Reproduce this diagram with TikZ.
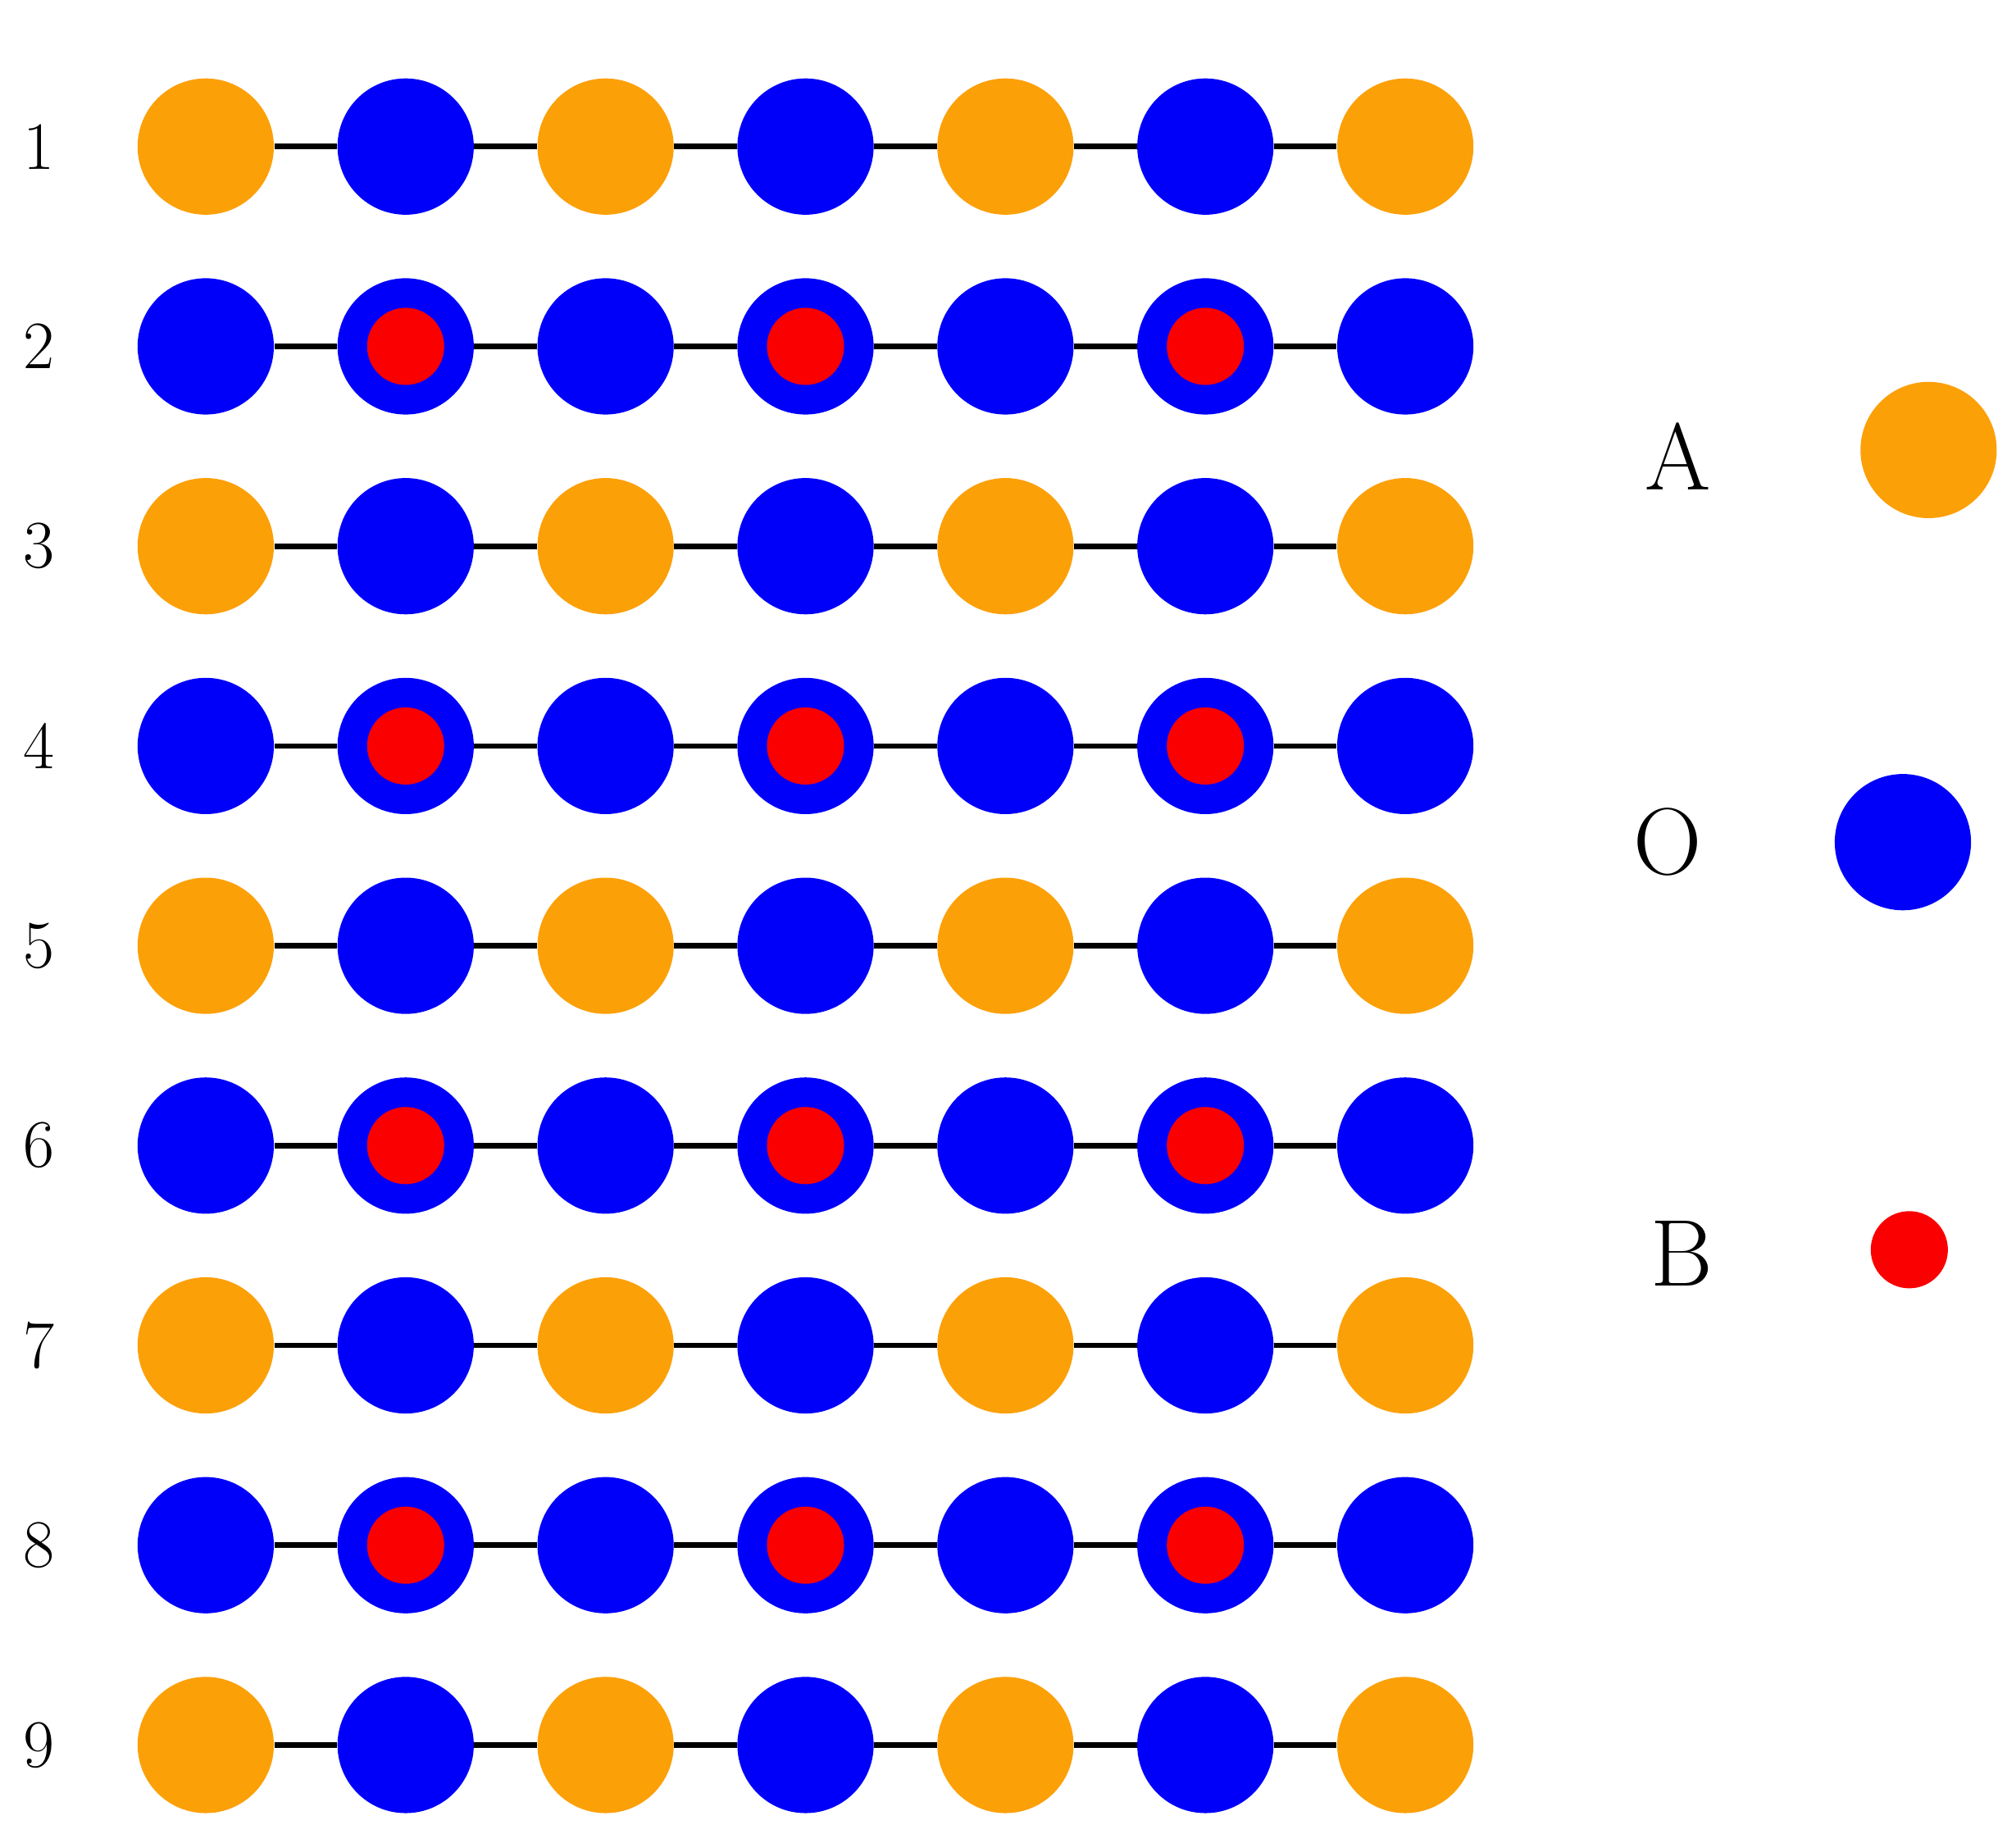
\documentclass[tikz,border=0pt]{standalone}
\usepackage{tikz}
\usetikzlibrary{positioning}
\definecolor{atomorange}{RGB}{252,160,8}
\definecolor{atomblue}{RGB}{0,0,250}
\definecolor{atomred}{RGB}{250,0,0}
\begin{document}
\begin{tikzpicture}[
    x=0.02cm, y=-0.02cm,
    siteA/.style={circle, fill=atomorange, minimum size=2.12cm, inner sep=0pt},
    siteO/.style={circle, fill=atomblue, minimum size=2.12cm, inner sep=0pt},
    siteB/.style={circle, fill=atomred, minimum size=1.2cm, inner sep=0pt},
    rowlabel/.style={font=\fontsize{30}{36}\selectfont},
    legendlabel/.style={font=\fontsize{42}{50}\selectfont},
    bond/.style={line width=2.4pt},
    cell/.style={densely dotted, line width=0.9pt, gray!70!black}
]
\useasboundingbox (0,0) rectangle (1568,1426);

% rows of atoms
\foreach \r in {1,...,9} {
  \pgfmathsetmacro{\yy}{114+155.4*(\r-1)}
  \node[rowlabel] (lab\r) at (30,\yy) {\r};
  \foreach \c in {1,...,7} {
    \pgfmathsetmacro{\xx}{160+155.5*(\c-1)}
    \pgfmathtruncatemacro{\oddrow}{mod(\r,2)}
    \pgfmathtruncatemacro{\oddcol}{mod(\c,2)}
    \ifnum\oddrow=1
      \ifnum\oddcol=1
        \node[siteA] (a\r-\c) at (\xx,\yy) {};
      \else
        \node[siteO] (a\r-\c) at (\xx,\yy) {};
      \fi
    \else
      \node[siteO] (a\r-\c) at (\xx,\yy) {};
      \ifnum\oddcol=0
        \node[siteB] (b\r-\c) at (\xx,\yy) {};
      \fi
    \fi
  }
  \foreach \c [evaluate=\c as \n using int(\c+1)] in {1,...,6}
    \draw[bond] (a\r-\c) -- (a\r-\n);
}

% unit cells
\node[cell, circle, minimum size=6.92cm] (cell1) at (240,192) {};
\node[cell, circle, minimum size=6.92cm] (cell2) at (545,192) {};
\node[cell, circle, minimum size=6.92cm] (cell3) at (860,192) {};

% legend
\node[legendlabel] (legA) at (1305,355) {A};
\node[siteA] (keyA) at (1500,350) {};
\node[legendlabel] (legO) at (1297,655) {O};
\node[siteO] (keyO) at (1480,655) {};
\node[legendlabel] (legB) at (1308,975) {B};
\node[siteB] (keyB) at (1485,972) {};

\end{tikzpicture}
\end{document}
